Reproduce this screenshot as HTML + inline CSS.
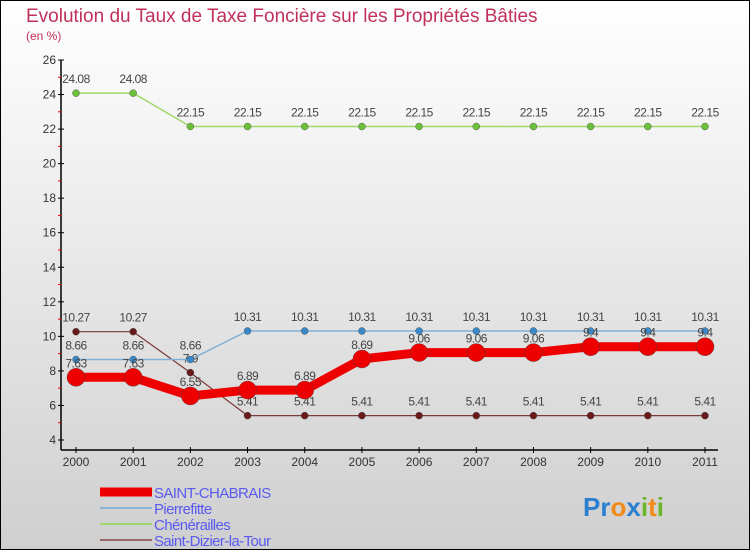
<!DOCTYPE html>
<html><head><meta charset="utf-8"><style>
html,body{margin:0;padding:0}
body{width:750px;height:550px;overflow:hidden;font-family:"Liberation Sans",sans-serif}
svg text{font-family:"Liberation Sans",sans-serif}
</style></head><body>
<svg id="c" width="750" height="550" xmlns="http://www.w3.org/2000/svg">
<defs><linearGradient id="bg" x1="0" y1="0" x2="0" y2="1"><stop offset="0" stop-color="#ffffff"/><stop offset="1" stop-color="#cfcfcf"/></linearGradient></defs>
<rect x="0" y="0" width="750" height="550" fill="url(#bg)" stroke="#000" stroke-width="2"/>
<text x="26" y="22" font-size="19" fill="#c0305a">Evolution du Taux de Taxe Foncière sur les Propriétés Bâties</text>
<text x="26" y="40" font-size="12" fill="#c0305a">(en %)</text>
<g id="axes"></g><g id="series"></g><g id="legend"></g>
<text x="583" y="516" font-size="26" font-weight="bold"><tspan fill="#2a7fd0">Pr</tspan><tspan fill="#f08a1a">o</tspan><tspan fill="#2a7fd0">x</tspan><tspan fill="#6ab62a">i</tspan><tspan fill="#f08a1a">t</tspan><tspan fill="#6ab62a">i</tspan></text>
</svg>
<script>
const years=["2000","2001","2002","2003","2004","2005","2006","2007","2008","2009","2010","2011"];
const yTicks=[4,6,8,10,12,14,16,18,20,22,24,26];
const seriesNames=["SAINT-CHABRAIS","Pierrefitte","Chénérailles","Saint-Dizier-la-Tour"];
const saintChabrais=[7.63,7.63,6.55,6.89,6.89,8.69,9.06,9.06,9.06,9.4,9.4,9.4];
const pierrefitte=[8.66,8.66,8.66,10.31,10.31,10.31,10.31,10.31,10.31,10.31,10.31,10.31];
const chenerailles=[24.08,24.08,22.15,22.15,22.15,22.15,22.15,22.15,22.15,22.15,22.15,22.15];
const saintDizier=[10.27,10.27,7.9,5.41,5.41,5.41,5.41,5.41,5.41,5.41,5.41,5.41];
const NS="http://www.w3.org/2000/svg";
const X=i=>76+i*(705-76)/11;
const Y=v=>440-(v-4)*(380/22);
function mk(tag,attrs,parent,txt){const e=document.createElementNS(NS,tag);for(const k in attrs)e.setAttribute(k,attrs[k]);if(txt!==undefined)e.textContent=txt;parent.appendChild(e);return e;}
const ax=document.getElementById('axes');
let e=mk('line',{x1:61,y1:60,x2:61,y2:450,stroke:'#000','stroke-width':1.5},ax);

e=mk('line',{x1:61,y1:450,x2:718,y2:450,stroke:'#000','stroke-width':1.5},ax);

yTicks.forEach(v=>{const y=Y(v);mk('line',{x1:58,y1:y,x2:64,y2:y,stroke:'#000'},ax);
 e=mk('text',{x:56,y:y+4,'font-size':12,fill:'#333','text-anchor':'end'},ax,String(v));
 
 if(v<26)mk('line',{x1:58,y1:Y(v+1),x2:61,y2:Y(v+1),stroke:'#e00'},ax);});
years.forEach((yr,i)=>{const x=X(i);mk('line',{x1:x,y1:447,x2:x,y2:453,stroke:'#000'},ax);
 e=mk('text',{x:x,y:466,'font-size':12,fill:'#333','text-anchor':'middle'},ax,yr);
 });
const sg=document.getElementById('series');
const defs=[[chenerailles,'#9fd86a','#6cc13a',1.5,3.5,'chenerailles'],[saintDizier,'#7a3a3a','#6a1a1a',1.2,3.5,'saint-dizier'],[pierrefitte,'#7fb0d8','#3a88c8',1.5,3.5,'pierrefitte'],[saintChabrais,'#ee0000','#ee0000',9,9,'saint-chabrais']];
defs.forEach(([d,lc,pc,w,r,n])=>{
 e=mk('polyline',{points:d.map((v,i)=>X(i)+','+Y(v)).join(' '),fill:'none',stroke:lc,'stroke-width':w},sg);
 
 d.forEach((v,i)=>{e=mk('circle',{cx:X(i),cy:Y(v),r:r,fill:pc,stroke:'#444','stroke-width':0.4},sg);
  
  e=mk('text',{x:X(i),y:Y(v)-10,'font-size':12,fill:'#444','text-anchor':'middle','letter-spacing':'-0.5'},sg,String(v));
  });
});
const lg=document.getElementById('legend');
const lcol=['#ee0000','#8ab4d4','#9fd86a','#9a6a6a'],lw=[9,2,2,2];
seriesNames.forEach((s,i)=>{const y=492+i*16;
 e=mk('line',{x1:100,y1:y,x2:152,y2:y,stroke:lcol[i],'stroke-width':lw[i]},lg);
 
 e=mk('text',{x:154,y:y+6,'font-size':15,fill:'#5a5af0','letter-spacing':'-0.6'},lg,s);
 });
</script>
</body></html>
